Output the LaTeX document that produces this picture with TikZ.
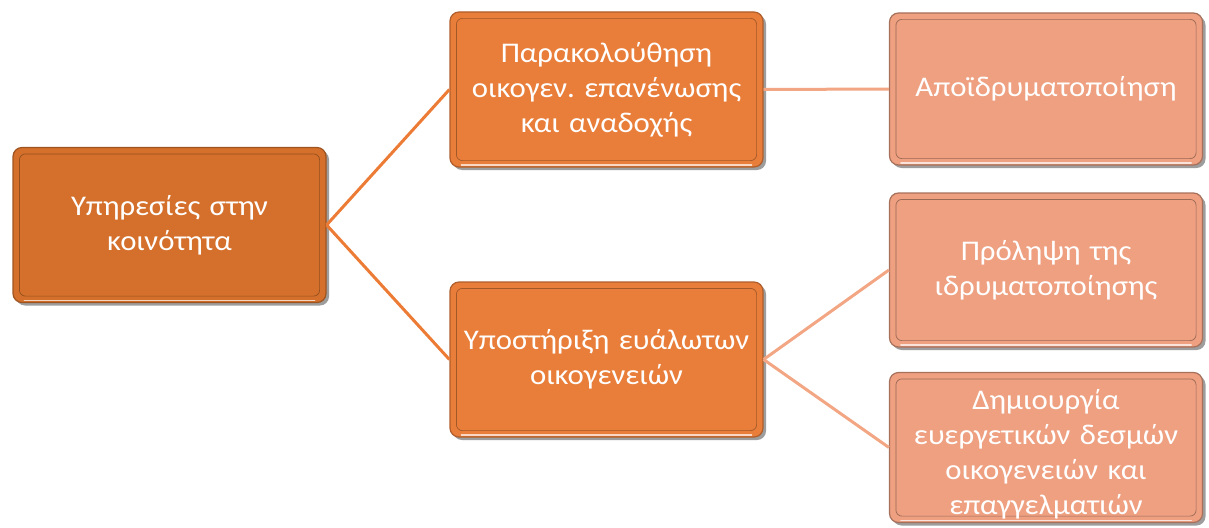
\documentclass[tikz,border=0pt]{standalone}
\usepackage{fontspec}
\setmainfont{Carlito}[FakeStretch=1.08]
\usetikzlibrary{shadows}
\frenchspacing
\definecolor{rootc}{HTML}{D4702B}
\definecolor{midc}{HTML}{E97E3A}
\definecolor{leafc}{HTML}{EEA081}
\definecolor{linemid}{HTML}{EC7C35}
\definecolor{lineleaf}{HTML}{F2A683}
\tikzset{
  boxbase/.style={rounded corners=9pt, minimum width=313pt, text width=312pt, align=center,
    text=white, font=\fontsize{28.5}{35}\selectfont, inner sep=0pt,
    drop shadow={shadow xshift=3pt, shadow yshift=-3pt, opacity=0.55, fill=black!70},
    line width=1.2pt},
  rootbox/.style={boxbase, fill=rootc, draw=rootc!75!black},
  midbox/.style={boxbase, fill=midc, draw=midc!75!black},
  leafbox/.style={boxbase, fill=leafc, draw=leafc!70!black},
  boxtext/.style={text width=312pt, align=center, text=white, inner sep=0pt,
    font=\fontsize{28.5}{35}\selectfont},
  conn/.style={line width=3pt},
}
\newcommand{\innerframe}[2]{%
  \draw[#2, line width=0.7pt, rounded corners=6pt]
    ([shift={(7pt,-7pt)}]#1.north west) rectangle ([shift={(-7pt,7pt)}]#1.south east);
  \draw[white, opacity=0.7, line width=1.6pt, line cap=round]
    ([shift={(12pt,2.5pt)}]#1.south west) -- ([shift={(-12pt,2.5pt)}]#1.south east);
}
\begin{document}
\begin{tikzpicture}[x=1pt,y=-1pt]
\useasboundingbox (0,0) rectangle (1209,527);
\node[rootbox, minimum height=155pt] (root) at (169.5,225) {Υπηρεσίες στην\\κοινότητα};
\node[midbox, minimum height=155pt] (mon) at (606.5,89.5) {Παρακολούθηση\\οικογεν. επανένωσης\\και αναδοχής};
\node[midbox, minimum height=155pt] (sup) at (606.5,359.5) {Υποστήριξη ευάλωτων\\οικογενειών};
\node[leafbox, minimum height=152pt] (deinst) at (1046,89) {Αποϊδρυματοποίηση};
\node[leafbox, minimum height=154pt] (prev) at (1046,270) {Πρόληψη της\\ιδρυματοποίησης};
\node[leafbox, minimum height=150pt] (bonds) at (1046,447.5) {};
\innerframe{root}{rootc!70!black}
\innerframe{mon}{midc!70!black}
\innerframe{sup}{midc!70!black}
\innerframe{deinst}{leafc!65!black}
\innerframe{prev}{leafc!65!black}
\innerframe{bonds}{leafc!65!black}
\node[boxtext] (bondstext) at ([yshift=-7pt]bonds.center) {Δημιουργία\\ευεργετικών δεσμών\\οικογενειών και\\επαγγελματιών};
\draw[conn, linemid] (root.east) -- (mon.west);
\draw[conn, linemid] (root.east) -- (sup.west);
\draw[conn, lineleaf] (mon.east) -- (deinst.west);
\draw[conn, lineleaf] (sup.east) -- (prev.west);
\draw[conn, lineleaf] (sup.east) -- (bonds.west);
\end{tikzpicture}
\end{document}
